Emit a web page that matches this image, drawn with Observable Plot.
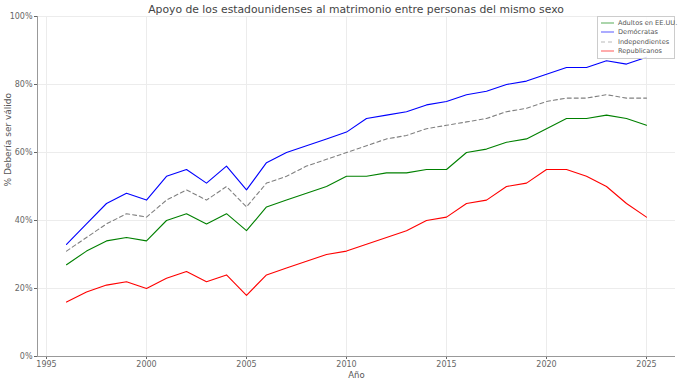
<!DOCTYPE html>
<html><head><meta charset="utf-8">
<script src="https://cdn.jsdelivr.net/npm/d3@7"></script>
<script src="https://cdn.jsdelivr.net/npm/@observablehq/plot@0.6"></script>
<style>
body{margin:0;background:#fff;font-family:"DejaVu Sans",sans-serif;}
#wrap{position:relative;width:680px;height:381px;}
#title{position:absolute;left:37px;width:638px;top:3px;text-align:center;font-size:10.8px;color:#444;}
#legend{position:absolute;left:597px;top:16px;width:78px;box-sizing:border-box;background:rgba(255,255,255,0.85);border:1px solid #ccc;font-size:6.6px;color:#555;padding:1px 0 2px 0;white-space:nowrap;}
.row{display:flex;align-items:center;height:9.5px;}
.row svg{margin:0 4px 0 3px;flex:none;}
</style></head>
<body><div id="wrap"><div id="title">Apoyo de los estadounidenses al matrimonio entre personas del mismo sexo</div><div id="chart"></div><div id="legend"></div></div>
<script>
const years = d3.range(1996, 2026);
const adultos = [27,31,34,35,34,40,42,39,42,37,44,46,48,50,53,53,54,54,55,55,60,61,63,64,67,70,70,71,70,68];
const democratas = [33,39,45,48,46,53,55,51,56,49,57,60,62,64,66,70,71,72,74,75,77,78,80,81,83,85,85,87,86,88];
const independientes = [31,35,39,42,41,46,49,46,50,44,51,53,56,58,60,62,64,65,67,68,69,70,72,73,75,76,76,77,76,76];
const republicanos = [16,19,21,22,20,23,25,22,24,18,24,26,28,30,31,33,35,37,40,41,45,46,50,51,55,55,53,50,45,41];
const seriesNames = ["Adultos en EE.UU.","Demócratas","Independientes","Republicanos"];
const seriesValues = [adultos, democratas, independientes, republicanos];
const seriesColors = ["green","blue","gray","red"];
const seriesDash = [null,null,"4,3",null];
const yTicks = [0,20,40,60,80,100];
const xTicks = [1995,2000,2005,2010,2015,2020,2025];

const data = seriesNames.map((n,i)=>years.map((y,j)=>({year:y, value:seriesValues[i][j], serie:n})));

const marks = [
  Plot.gridX(xTicks,{stroke:"#ececec",strokeOpacity:1}),
  Plot.gridY(yTicks,{stroke:"#ececec",strokeOpacity:1}),
  Plot.axisX(xTicks,{tickSize:3,tickPadding:2,fontSize:8,color:"#666",tickFormat:d=>String(d),label:null}),
  Plot.axisY(yTicks,{tickSize:3,tickPadding:2,fontSize:8,color:"#666",tickFormat:d=>d+"%",label:null}),
  Plot.ruleX([1994.55],{stroke:"#999"}),
  Plot.ruleY([0],{stroke:"#999"}),
  Plot.text(["Año"],{frameAnchor:"bottom",dy:21,fontSize:8.5,fill:"#555"}),
  Plot.text(["% Debería ser válido"],{frameAnchor:"left",dx:-29,rotate:-90,fontSize:9,fill:"#555"})
];
data.forEach((d,i)=>{
  marks.push(Plot.line(d,{x:"year",y:"value",stroke:seriesColors[i],strokeWidth:1.1,strokeDasharray:seriesDash[i]}));
});

const chart = Plot.plot({
  width:680,height:381,
  marginLeft:37,marginRight:5,marginTop:16,marginBottom:25,
  style:{fontFamily:"DejaVu Sans",background:"transparent"},
  x:{domain:[1994.55,2026.45]},
  y:{domain:[0,100]},
  marks
});
document.getElementById("chart").appendChild(chart);

const leg = document.getElementById("legend");
seriesNames.forEach((n,i)=>{
  const r=document.createElement("div");r.className="row";
  r.innerHTML=`<svg width="13" height="4"><line x1="0" y1="2" x2="13" y2="2" stroke="${seriesColors[i]}" stroke-opacity="0.55" stroke-width="1.2" ${seriesDash[i]?`stroke-dasharray="${seriesDash[i]}"`:""}/></svg><span>${n}</span>`;
  leg.appendChild(r);
});
</script></body></html>
